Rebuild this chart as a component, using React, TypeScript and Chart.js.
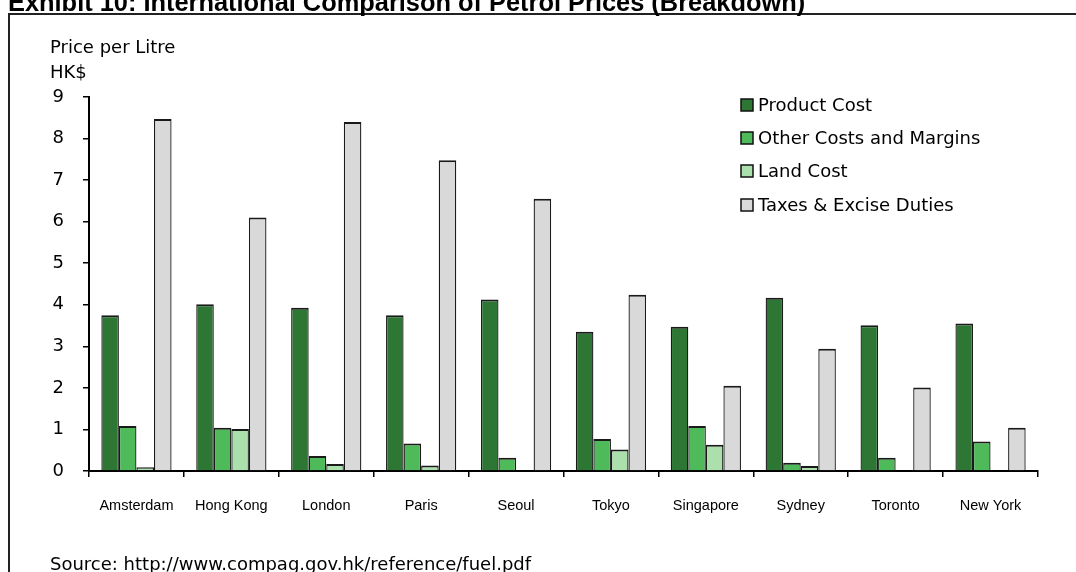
import React, { useEffect, useRef } from "react";
import { Chart, registerables } from "chart.js";

Chart.register(...registerables);

const cities = ["Amsterdam", "Hong Kong", "London", "Paris", "Seoul", "Tokyo", "Singapore", "Sydney", "Toronto", "New York"];
const productCost = [3.75, 4.01, 3.93, 3.75, 4.13, 3.35, 3.47, 4.17, 3.51, 3.55];
const otherCosts = [1.08, 1.04, 0.36, 0.66, 0.32, 0.77, 1.08, 0.2, 0.32, 0.71];
const landCost = [0.09, 1.01, 0.17, 0.13, 0, 0.52, 0.63, 0.12, 0, 0.02];
const taxes = [8.47, 6.1, 8.4, 7.48, 6.55, 4.24, 2.05, 2.94, 2.01, 1.04];
const seriesNames = ["Product Cost", "Other Costs and Margins", "Land Cost", "Taxes & Excise Duties"];
const seriesColors = ["#2E7634", "#4FBA5A", "#ABDFAB", "#D9D9D9"];
const yTicks = [0, 1, 2, 3, 4, 5, 6, 7, 8, 9];

const titleText = "Exhibit 10: International Comparison of Petrol Prices (Breakdown)";
const yTitle1 = "Price per Litre";
const yTitle2 = "HK$";
const sourceText = "Source: http://www.compag.gov.hk/reference/fuel.pdf";

const FONT = "'DejaVu Sans', sans-serif";

const decorPlugin = {
  id: "decor",
  afterDraw(chart: any) {
    const ctx = chart.ctx;
    ctx.save();
    // frame
    ctx.strokeStyle = "#222";
    ctx.lineWidth = 2;
    ctx.beginPath();
    ctx.moveTo(9, 572);
    ctx.lineTo(9, 14);
    ctx.lineTo(1076, 14);
    ctx.stroke();
    // title
    ctx.fillStyle = "#000";
    ctx.font = "bold 25.4px 'Liberation Sans', Arial, sans-serif";
    ctx.textBaseline = "alphabetic";
    ctx.textAlign = "left";
    ctx.fillText(titleText, 8, 11);
    // y title
    ctx.font = "18px " + FONT;
    ctx.fillText(yTitle1, 50, 53);
    ctx.fillText(yTitle2, 50, 78);
    // source
    ctx.fillText(sourceText, 50, 570);
    // legend
    const ds = chart.data.datasets;
    const rowY = [105, 138, 171, 205];
    ctx.textBaseline = "middle";
    ds.forEach((d: any, i: number) => {
      const y = rowY[i];
      ctx.fillStyle = d.backgroundColor;
      ctx.fillRect(741, y - 6, 12, 12);
      ctx.strokeStyle = "#111";
      ctx.lineWidth = 1.5;
      ctx.strokeRect(741, y - 6, 12, 12);
      ctx.fillStyle = "#000";
      ctx.fillText(d.label, 758, y + 1);
    });
    ctx.restore();
  },
};

export default function App() {
  const ref = useRef<HTMLCanvasElement | null>(null);
  useEffect(() => {
    if (!ref.current) return;
    const values = [productCost, otherCosts, landCost, taxes];
    const chart = new Chart(ref.current, {
      type: "bar",
      data: {
        labels: cities,
        datasets: values.map((v, i) => ({
          label: seriesNames[i],
          data: v,
          backgroundColor: seriesColors[i],
          borderColor: "#1a1a1a",
          borderWidth: { top: 2, left: 1.3, right: 1.3, bottom: 0 },
          borderSkipped: false,
          inflateAmount: 0,
          categoryPercentage: 0.74,
          barPercentage: 1,
        })),
      },
      options: {
        responsive: false,
        animation: false,
        devicePixelRatio: 1,
        layout: { padding: { left: 0, right: 38, top: 97, bottom: 0 } },
        plugins: { legend: { display: false }, tooltip: { enabled: false }, title: { display: false } },
        scales: {
          x: {
            grid: { display: true, drawOnChartArea: false, offset: true, tickLength: 6, color: "#000", lineWidth: 1.5 },
            border: { display: true, color: "#000", width: 2 },
            ticks: { color: "#000", font: { family: "'Liberation Sans', Arial, sans-serif", size: 14.5 }, padding: 20, maxRotation: 0, autoSkip: false },
            afterFit: (s: any) => { s.height = 101; },
          },
          y: {
            min: 0,
            max: 9,
            afterBuildTicks: (s: any) => { s.ticks = yTicks.map((v) => ({ value: v })); },
            grid: { display: true, drawOnChartArea: false, tickLength: 6, color: "#000", lineWidth: 1.5 },
            border: { display: true, color: "#000", width: 2 },
            ticks: { color: "#000", font: { family: FONT, size: 18 }, padding: 19 },
            afterFit: (s: any) => { s.width = 89; },
          },
        },
      },
      plugins: [decorPlugin],
    });
    return () => chart.destroy();
  }, []);
  return (
    <canvas
      ref={ref}
      width={1076}
      height={572}
      style={{ position: "fixed", left: 0, top: 0, width: 1076, height: 572, background: "#fff" }}
    />
  );
}
